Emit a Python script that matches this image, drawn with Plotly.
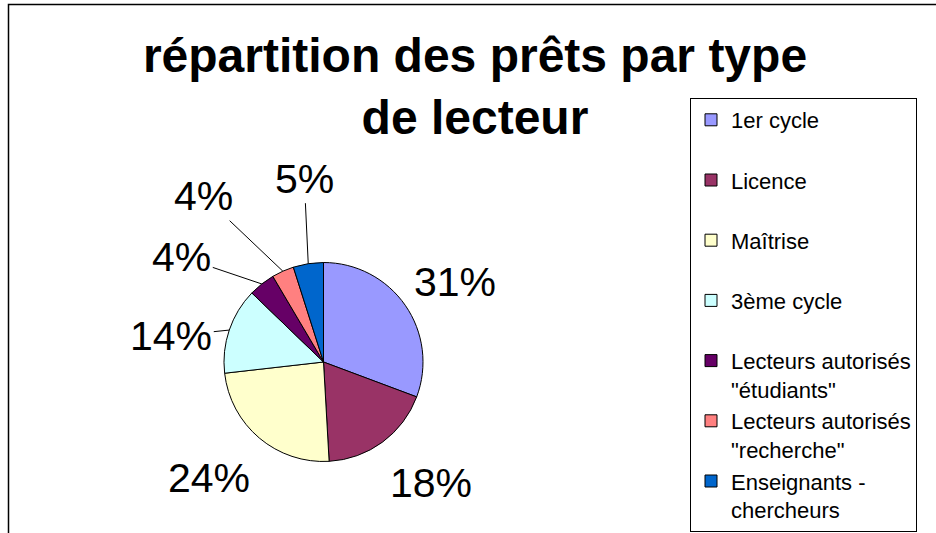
import math
import plotly.graph_objects as go

# ---- data ----
categories = ["1er cycle", "Licence", "Maîtrise", "3ème cycle",
              'Lecteurs autorisés\n"étudiants"', 'Lecteurs autorisés\n"recherche"',
              "Enseignants -\nchercheurs"]
shares = [30.7, 18.4, 24.1, 14.0, 4.3, 3.6, 4.9]
colors = ["#9999FF", "#993366", "#FFFFCC", "#CCFFFF", "#660066", "#FF8080", "#0066CC"]
title_text = "répartition des prêts par type<br>de lecteur"

# ---- layout constants ----
W, H = 936, 533
FONT = "Liberation Sans, Arial, sans-serif"
dom_x = [224 / W, 423 / W]
dom_y = [1 - 461.5 / H, 1 - 262.5 / H]

# label placement (pixel offsets of label centre from slice rim point) and leader lines
label_offsets = [(50, -23), (49, 41), (-50, 40), (-58, 6), (-80, -27), (-79, -75), (-4, -85)]
leader = [False, False, False, True, True, True, True]

legend_labels = []
for c in categories:
    t = c.replace("\n", "<br>")
    if "\n" not in c:
        t += "<br>&nbsp;"
    legend_labels.append(t)

fig = go.Figure(go.Pie(
    labels=legend_labels,
    values=shares,
    sort=False,
    direction="clockwise",
    rotation=0,
    textinfo="none",
    hoverinfo="label+percent",
    marker=dict(colors=colors, line=dict(color="black", width=1)),
    domain=dict(x=dom_x, y=dom_y),
))

# label annotations computed from the data
total = sum(shares)
cxp = (dom_x[0] + dom_x[1]) / 2
cyp = (dom_y[0] + dom_y[1]) / 2
r_px = min((dom_x[1] - dom_x[0]) * W, (dom_y[1] - dom_y[0]) * H) / 2
cum = 0.0
annotations = []
for v, (ox, oy), lead in zip(shares, label_offsets, leader):
    mid = (cum + v / 2) / total * 2 * math.pi
    cum += v
    xp = cxp + r_px * math.sin(mid) / W
    yp = cyp + r_px * math.cos(mid) / H
    txt = f"{round(v / total * 100)}%"
    common = dict(x=xp, y=yp, xref="paper", yref="paper", text=txt,
                  xanchor="center", yanchor="middle",
                  font=dict(family=FONT, size=41, color="black"))
    if lead:
        annotations.append(dict(**common, showarrow=True, arrowhead=0, arrowwidth=1,
                                arrowcolor="black", standoff=0, ax=ox, ay=oy))
    else:
        annotations.append(dict(**common, showarrow=False, xshift=ox, yshift=-oy))

fig.update_layout(
    width=W, height=H,
    margin=dict(l=0, r=0, t=0, b=0),
    paper_bgcolor="white",
    plot_bgcolor="white",
    title=dict(text=title_text, x=475 / W, xanchor="center", xref="container",
               y=1 - 72 / H, yanchor="top", yref="container",
               font=dict(family=FONT, size=48, color="black", weight="bold")),
    showlegend=True,
    legend=dict(x=690 / W, xanchor="left", y=1 - 98 / H, yanchor="top",
                bgcolor="white", bordercolor="black", borderwidth=1,
                valign="top", traceorder="normal",
                font=dict(family=FONT, size=22, color="black")),
    annotations=annotations,
    shapes=[dict(type="rect", xref="paper", yref="paper",
                 x0=8.5 / W, x1=1.05, y0=-0.05, y1=1 - 4.5 / H,
                 line=dict(color="black", width=1.5), layer="below")],
)

fig.write_html("out.html", config={"displayModeBar": False},
               post_script="document.body.style.margin='0';")
